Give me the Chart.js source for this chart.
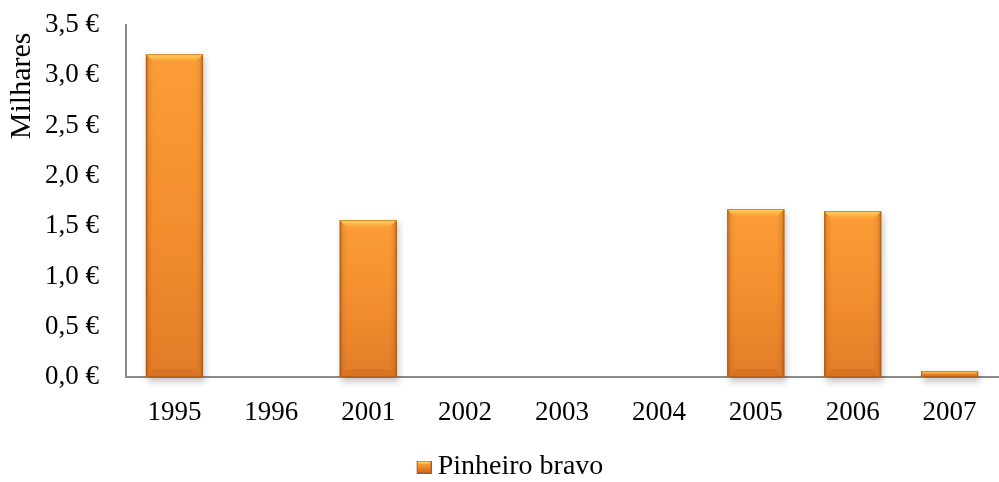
<!DOCTYPE html>
<html>
<head>
<meta charset="utf-8">
<script src="https://cdn.jsdelivr.net/npm/chart.js@4"></script>
<style>
  html, body { margin: 0; padding: 0; background: #fff; }
  #wrap { width: 999px; height: 482px; }
</style>
</head>
<body>
<div id="wrap"><canvas id="myChart" width="999" height="482"></canvas></div>
<script>
// anos e valores (milhares de euros)
var years = ['1995', '1996', '2001', '2002', '2003', '2004', '2005', '2006', '2007'];
var pinheiroBravo = [3.21, 0, 1.56, 0, 0, 0, 1.67, 1.65, 0.06];
var seriesName = 'Pinheiro bravo';
var yTicks = [0, 0.5, 1, 1.5, 2, 2.5, 3, 3.5];

var FONT = '"Liberation Serif", "Times New Roman", serif';
var FONT_SIZE = 27;

// bevelled square used as the legend marker (drawn at the right of a wider
// transparent canvas so it sits close to the label text)
function legendMarker(){
  var cv = document.createElement('canvas');
  cv.width = 45; cv.height = 13;
  var c = cv.getContext('2d');
  c.translate(30, 0);
  var g = c.createLinearGradient(0, 0, 0, 13);
  g.addColorStop(0, '#fcb24c');
  g.addColorStop(0.5, '#ef8a2c');
  g.addColorStop(1, '#c4651e');
  c.fillStyle = g;
  c.fillRect(0, 0, 15, 13);
  c.fillStyle = 'rgba(255,215,110,0.8)';
  c.beginPath(); c.moveTo(0, 0); c.lineTo(15, 0); c.lineTo(12, 3); c.lineTo(3, 3); c.closePath(); c.fill();
  c.strokeStyle = '#a85a1c';
  c.lineWidth = 1;
  c.strokeRect(0.5, 0.5, 14, 12);
  return cv;
}

// draws each bar with a bevel: gradient body, light top, darker sides and base
var bevelPlugin = {
  id: 'bevel',
  afterDatasetsDraw: function(chart){
    var c = chart.ctx;
    var meta = chart.getDatasetMeta(0);
    c.save();
    meta.data.forEach(function(bar){
      var top = bar.y, bot = bar.base;
      var h = bot - top;
      if(!(h > 0.5)) return;
      var l = bar.x - bar.width / 2, r = bar.x + bar.width / 2, w = bar.width;
      var b = Math.min(8, h / 2);

      // soft shadow
      c.fillStyle = 'rgba(0,0,0,0.22)';
      c.filter = 'blur(3px)';
      c.fillRect(l + 2, top + 3, w, h + 2);
      c.filter = 'none';

      // body
      var g = c.createLinearGradient(0, top, 0, bot);
      g.addColorStop(0, '#fb9d36');
      g.addColorStop(0.5, '#f48f2f');
      g.addColorStop(1, '#e27c28');
      c.fillStyle = g;
      c.fillRect(l, top, w, h);

      // left/right edges
      var gl = c.createLinearGradient(l, 0, l + b, 0);
      gl.addColorStop(0, 'rgba(150,75,15,0.6)');
      gl.addColorStop(0.45, 'rgba(170,85,20,0.15)');
      gl.addColorStop(1, 'rgba(170,85,20,0)');
      c.fillStyle = gl;
      c.beginPath();
      c.moveTo(l, top); c.lineTo(l + b, top + b); c.lineTo(l + b, bot - b); c.lineTo(l, bot);
      c.closePath(); c.fill();

      var gr = c.createLinearGradient(r, 0, r - b, 0);
      gr.addColorStop(0, 'rgba(150,75,15,0.6)');
      gr.addColorStop(0.45, 'rgba(170,85,20,0.15)');
      gr.addColorStop(1, 'rgba(170,85,20,0)');
      c.fillStyle = gr;
      c.beginPath();
      c.moveTo(r, top); c.lineTo(r - b, top + b); c.lineTo(r - b, bot - b); c.lineTo(r, bot);
      c.closePath(); c.fill();

      // top bevel
      var gt = c.createLinearGradient(0, top, 0, top + b);
      gt.addColorStop(0, '#ffd262');
      gt.addColorStop(0.4, '#ffbd4c');
      gt.addColorStop(1, 'rgba(252,160,56,0.3)');
      c.fillStyle = gt;
      c.beginPath();
      c.moveTo(l, top); c.lineTo(r, top); c.lineTo(r - b, top + b); c.lineTo(l + b, top + b);
      c.closePath(); c.fill();

      // bottom bevel
      c.fillStyle = 'rgba(205,100,25,0.4)';
      c.beginPath();
      c.moveTo(l, bot); c.lineTo(r, bot); c.lineTo(r - b, bot - b); c.lineTo(l + b, bot - b);
      c.closePath(); c.fill();

      // thin outline
      c.strokeStyle = 'rgba(160,85,20,0.55)';
      c.lineWidth = 1;
      c.strokeRect(l + 0.5, top + 0.5, w - 1, h - 1);
    });
    c.restore();
  }
};

var marker = legendMarker();

var chart = new Chart(document.getElementById('myChart'), {
  type: 'bar',
  data: {
    labels: years,
    datasets: [{
      label: seriesName,
      data: pinheiroBravo,
      backgroundColor: 'rgba(0,0,0,0)',
      borderWidth: 0,
      categoryPercentage: 1,
      barPercentage: 0.59
    }]
  },
  plugins: [bevelPlugin],
  options: {
    responsive: false,
    animation: false,
    devicePixelRatio: 1,
    layout: { padding: { top: 25, right: 1, left: 0, bottom: -9 } },
    plugins: {
      tooltip: { enabled: false },
      legend: {
        position: 'bottom',
        labels: {
          color: '#000',
          font: { family: FONT, size: 28 },
          usePointStyle: true,
          pointStyleWidth: 29,
          boxHeight: 13,
          padding: 2,
          generateLabels: function(ch){
            return [{
              text: seriesName,
              pointStyle: marker,
              fillStyle: '#ef8a2c',
              strokeStyle: '#a85a1c',
              lineWidth: 0,
              fontColor: '#000',
              datasetIndex: 0
            }];
          }
        }
      }
    },
    scales: {
      x: {
        grid: { display: false, drawTicks: false },
        border: { display: true, color: '#8c8c8c', width: 2 },
        ticks: {
          color: '#000',
          font: { family: FONT, size: FONT_SIZE },
          padding: 20,
          maxRotation: 0
        },
        afterFit: function(scale){ scale.height = 74; }
      },
      y: {
        min: 0,
        max: 3.5,
        afterBuildTicks: function(scale){
          scale.ticks = yTicks.map(function(v){ return { value: v }; });
        },
        grid: { display: false, drawTicks: false },
        border: { display: true, color: '#8c8c8c', width: 2 },
        title: {
          display: true,
          text: 'Milhares ',
          align: 'end',
          color: '#000',
          font: { family: FONT, size: 30 },
          padding: { top: 4, bottom: 0 }
        },
        ticks: {
          color: '#000',
          font: { family: FONT, size: FONT_SIZE },
          padding: 27,
          callback: function(v){ return v.toFixed(1).replace('.', ',') + ' €'; }
        },
        afterFit: function(scale){
          scale.width = 126;
          scale.paddingTop = 0;
          scale.paddingBottom = 0;
        }
      }
    }
  }
});
</script>
</body>
</html>
